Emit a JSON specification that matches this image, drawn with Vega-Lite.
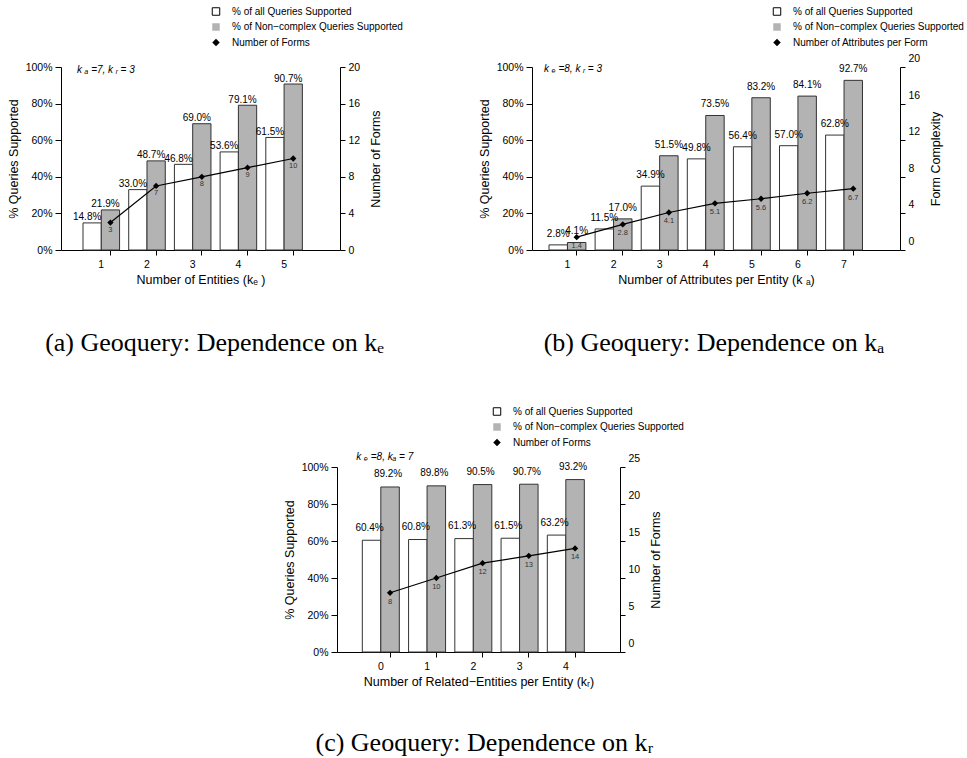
{
  "$schema": "https://vega.github.io/schema/vega-lite/v6.json",
  "padding": {"left": 7, "top": 6, "right": 0, "bottom": 0},
  "config": {
    "font": "Liberation Sans",
    "view": {"stroke": null},
    "axis": {"grid": false, "domainColor": "black", "tickColor": "black", "labelColor": "black", "titleColor": "black", "labelFontSize": 10.5, "titleFontSize": 12.5, "titleFontWeight": "normal", "tickSize": 5, "labelPadding": 3, "labelFont": "Liberation Sans", "titleFont": "Liberation Sans", "labelOverlap": false, "labelFlush": false, "labelBound": false},
    "axisX": {"labelAngle": 0, "labelPadding": 4, "titlePadding": 4},
    "axisLeft": {"titlePadding": 5, "tickSize": 6},
    "axisRight": {"titlePadding": 10, "titleAngle": -90, "titleBaseline": "top"},
    "title": {"font": "Liberation Serif", "fontSize": 26, "fontWeight": "normal", "color": "black"},
    "legend": {"labelFont": "Liberation Sans", "labelFontSize": 10, "labelColor": "black", "labelLimit": 0, "title": null, "orient": "none", "symbolSize": 56, "rowPadding": 3.5, "labelOffset": 11, "padding": 0, "symbolStrokeColor": "black", "symbolStrokeWidth": 1},
    "text": {"font": "Liberation Sans", "color": "black"}
  },
  "datasets": {
    "a_bars": [
      {"k": "1", "s": "% of all Queries Supported", "v": 0.148}, {"k": "1", "s": "% of Non−complex Queries Supported", "v": 0.219},
      {"k": "2", "s": "% of all Queries Supported", "v": 0.330}, {"k": "2", "s": "% of Non−complex Queries Supported", "v": 0.487},
      {"k": "3", "s": "% of all Queries Supported", "v": 0.468}, {"k": "3", "s": "% of Non−complex Queries Supported", "v": 0.690},
      {"k": "4", "s": "% of all Queries Supported", "v": 0.536}, {"k": "4", "s": "% of Non−complex Queries Supported", "v": 0.791},
      {"k": "5", "s": "% of all Queries Supported", "v": 0.615}, {"k": "5", "s": "% of Non−complex Queries Supported", "v": 0.907}
    ],
    "a_line": [
      {"k": "1", "s": "Number of Forms", "n": 3}, {"k": "2", "s": "Number of Forms", "n": 7}, {"k": "3", "s": "Number of Forms", "n": 8},
      {"k": "4", "s": "Number of Forms", "n": 9}, {"k": "5", "s": "Number of Forms", "n": 10}
    ],
    "a_note": [{"k": "1", "v": 1, "t": "k ₐ =7,  k ᵣ = 3"}],
    "b_bars": [
      {"k": "1", "s": "% of all Queries Supported", "v": 0.028}, {"k": "1", "s": "% of Non−complex Queries Supported", "v": 0.041},
      {"k": "2", "s": "% of all Queries Supported", "v": 0.115}, {"k": "2", "s": "% of Non−complex Queries Supported", "v": 0.170},
      {"k": "3", "s": "% of all Queries Supported", "v": 0.349}, {"k": "3", "s": "% of Non−complex Queries Supported", "v": 0.515},
      {"k": "4", "s": "% of all Queries Supported", "v": 0.498}, {"k": "4", "s": "% of Non−complex Queries Supported", "v": 0.735},
      {"k": "5", "s": "% of all Queries Supported", "v": 0.564}, {"k": "5", "s": "% of Non−complex Queries Supported", "v": 0.832},
      {"k": "6", "s": "% of all Queries Supported", "v": 0.570}, {"k": "6", "s": "% of Non−complex Queries Supported", "v": 0.841},
      {"k": "7", "s": "% of all Queries Supported", "v": 0.628}, {"k": "7", "s": "% of Non−complex Queries Supported", "v": 0.927}
    ],
    "b_line": [
      {"k": "1", "s": "Number of Attributes per Form", "n": 1.4}, {"k": "2", "s": "Number of Attributes per Form", "n": 2.8},
      {"k": "3", "s": "Number of Attributes per Form", "n": 4.1}, {"k": "4", "s": "Number of Attributes per Form", "n": 5.1},
      {"k": "5", "s": "Number of Attributes per Form", "n": 5.6}, {"k": "6", "s": "Number of Attributes per Form", "n": 6.2},
      {"k": "7", "s": "Number of Attributes per Form", "n": 6.7}
    ],
    "b_note": [{"k": "1", "v": 1, "t": "k ₑ =8,  k ᵣ = 3"}],
    "c_bars": [
      {"k": "0", "s": "% of all Queries Supported", "v": 0.604}, {"k": "0", "s": "% of Non−complex Queries Supported", "v": 0.892},
      {"k": "1", "s": "% of all Queries Supported", "v": 0.608}, {"k": "1", "s": "% of Non−complex Queries Supported", "v": 0.898},
      {"k": "2", "s": "% of all Queries Supported", "v": 0.613}, {"k": "2", "s": "% of Non−complex Queries Supported", "v": 0.905},
      {"k": "3", "s": "% of all Queries Supported", "v": 0.615}, {"k": "3", "s": "% of Non−complex Queries Supported", "v": 0.907},
      {"k": "4", "s": "% of all Queries Supported", "v": 0.632}, {"k": "4", "s": "% of Non−complex Queries Supported", "v": 0.932}
    ],
    "c_line": [
      {"k": "0", "s": "Number of Forms", "n": 8}, {"k": "1", "s": "Number of Forms", "n": 10}, {"k": "2", "s": "Number of Forms", "n": 12},
      {"k": "3", "s": "Number of Forms", "n": 13}, {"k": "4", "s": "Number of Forms", "n": 14}
    ],
    "c_note": [{"k": "0", "v": 1, "t": "k ₑ =8,  kₐ = 7"}],
    "spacer": [{"k": "0"}]
  },
  "spacing": 400,
  "bounds": "flush",
  "resolve": {"scale": {"fill": "independent", "shape": "independent", "xOffset": "independent"}, "legend": {"fill": "independent", "shape": "independent"}},
  "vconcat": [
    {
      "spacing": 192,
      "bounds": "flush",
      "resolve": {"scale": {"fill": "independent", "shape": "independent", "xOffset": "independent"}, "legend": {"fill": "independent", "shape": "independent"}},
      "hconcat": [
        {
          "width": 279, "height": 183,
          "title": {"text": "(a) Geoquery: Dependence on kₑ", "orient": "bottom", "anchor": "middle", "frame": "group", "offset": 44, "dx": 14},
          "resolve": {"scale": {"y": "independent"}},
          "layer": [
            {"layer": [
              {"data": {"name": "a_bars"}, "mark": {"type": "bar", "stroke": "#333", "strokeWidth": 1},
               "encoding": {
                 "x": {"field": "k", "type": "ordinal", "scale": {"paddingInner": 0.2, "paddingOuter": 0.6525, "align": 0.369}, "axis": {"title": "Number of Entities (kₑ )", "bandPosition": 0.75, "labelOverlap": false}},
                 "xOffset": {"field": "s", "type": "nominal", "scale": {"domain": ["% of all Queries Supported", "% of Non−complex Queries Supported"], "paddingInner": 0, "paddingOuter": 0}},
                 "y": {"field": "v", "type": "quantitative", "scale": {"domain": [0, 1], "nice": false}, "axis": {"orient": "left", "title": "% Queries Supported", "format": ".0%", "values": [0, 0.2, 0.4, 0.6, 0.8, 1], "tickCount": 20, "labelOverlap": false}},
                 "fill": {"field": "s", "type": "nominal", "scale": {"domain": ["% of all Queries Supported", "% of Non−complex Queries Supported", "Number of Forms"], "range": ["white", "#b3b3b3", "black"]},
                          "legend": {"legendX": 150, "legendY": -60.5, "encode": {"symbols": {"update": {"stroke": [{"test": "datum.value === '% of all Queries Supported'", "value": "black"}, {"value": "transparent"}]}}}}}
               }},
              {"data": {"name": "a_bars"}, "mark": {"type": "text", "fontSize": 10, "dy": -2.5, "dx": -5, "baseline": "alphabetic"},
               "encoding": {"x": {"field": "k", "type": "ordinal"}, "xOffset": {"field": "s", "type": "nominal"}, "y": {"field": "v", "type": "quantitative"}, "text": {"field": "v", "type": "quantitative", "format": ".1%"}}},
              {"data": {"name": "a_note"}, "mark": {"type": "text", "align": "left", "baseline": "middle", "fontStyle": "italic", "fontSize": 10, "dx": -6, "dy": 3.3},
               "encoding": {"x": {"field": "k", "type": "ordinal", "bandPosition": 0}, "y": {"field": "v", "type": "quantitative"}, "text": {"field": "t"}}}
            ]},
            {"layer": [
              {"data": {"name": "a_line"}, "mark": {"type": "line", "color": "black", "strokeWidth": 1.2},
               "encoding": {"x": {"field": "k", "type": "ordinal", "bandPosition": 0.75}, "y": {"field": "n", "type": "quantitative", "scale": {"domain": [0, 20], "nice": false}, "axis": {"orient": "right", "title": "Number of Forms", "values": [0, 4, 8, 12, 16, 20], "tickCount": 20, "labelOverlap": false}}}},
              {"data": {"name": "a_line"}, "mark": {"type": "point", "filled": true, "size": 40, "opacity": 1},
               "encoding": {"x": {"field": "k", "type": "ordinal", "bandPosition": 0.75}, "y": {"field": "n", "type": "quantitative"},
                 "fill": {"field": "s", "type": "nominal", "legend": {"legendX": 150, "legendY": -60.5, "encode": {"symbols": {"update": {"stroke": [{"test": "datum.value === '% of all Queries Supported'", "value": "black"}, {"value": "transparent"}]}}}}},
                 "shape": {"field": "s", "type": "nominal", "scale": {"domain": ["% of all Queries Supported", "% of Non−complex Queries Supported", "Number of Forms"], "range": ["square", "square", "diamond"]}, "legend": {"legendX": 150, "legendY": -60.5, "encode": {"symbols": {"update": {"stroke": [{"test": "datum.value === '% of all Queries Supported'", "value": "black"}, {"value": "transparent"}]}}}}}}},
              {"data": {"name": "a_line"}, "mark": {"type": "text", "fontSize": 7.5, "dy": 7.5, "baseline": "middle", "color": "#333"},
               "encoding": {"x": {"field": "k", "type": "ordinal", "bandPosition": 0.75}, "y": {"field": "n", "type": "quantitative"}, "text": {"field": "n", "type": "quantitative", "format": "d"}}}
            ]}
          ]
        },
        {
          "width": 368, "height": 183,
          "title": {"text": "(b) Geoquery: Dependence on kₐ", "orient": "bottom", "anchor": "middle", "frame": "group", "offset": 44, "dx": -2},
          "resolve": {"scale": {"y": "independent"}},
          "layer": [
            {"layer": [
              {"data": {"name": "b_bars"}, "mark": {"type": "bar", "stroke": "#333", "strokeWidth": 1},
               "encoding": {
                 "x": {"field": "k", "type": "ordinal", "scale": {"paddingInner": 0.2, "paddingOuter": 0.5915, "align": 0.312}, "axis": {"title": "Number of Attributes per Entity (k ₐ)", "bandPosition": 0.75, "labelOverlap": false}},
                 "xOffset": {"field": "s", "type": "nominal", "scale": {"domain": ["% of all Queries Supported", "% of Non−complex Queries Supported"], "paddingInner": 0, "paddingOuter": 0}},
                 "y": {"field": "v", "type": "quantitative", "scale": {"domain": [0, 1], "nice": false}, "axis": {"orient": "left", "title": "% Queries Supported", "format": ".0%", "values": [0, 0.2, 0.4, 0.6, 0.8, 1], "tickCount": 20, "labelOverlap": false}},
                 "fill": {"field": "s", "type": "nominal", "scale": {"domain": ["% of all Queries Supported", "% of Non−complex Queries Supported", "Number of Attributes per Form"], "range": ["white", "#b3b3b3", "black"]},
                          "legend": {"legendX": 240, "legendY": -60.5, "encode": {"symbols": {"update": {"stroke": [{"test": "datum.value === '% of all Queries Supported'", "value": "black"}, {"value": "transparent"}]}}}}}
               }},
              {"data": {"name": "b_bars"}, "mark": {"type": "text", "fontSize": 10, "dy": -8, "baseline": "alphabetic"},
               "encoding": {"x": {"field": "k", "type": "ordinal"}, "xOffset": {"field": "s", "type": "nominal"}, "y": {"field": "v", "type": "quantitative"}, "text": {"field": "v", "type": "quantitative", "format": ".1%"}}},
              {"data": {"name": "b_note"}, "mark": {"type": "text", "align": "left", "baseline": "middle", "fontStyle": "italic", "fontSize": 10, "dx": -5, "dy": 1.5},
               "encoding": {"x": {"field": "k", "type": "ordinal", "bandPosition": 0}, "y": {"field": "v", "type": "quantitative"}, "text": {"field": "t"}}}
            ]},
            {"layer": [
              {"data": {"name": "b_line"}, "mark": {"type": "line", "color": "black", "strokeWidth": 1.2},
               "encoding": {"x": {"field": "k", "type": "ordinal", "bandPosition": 0.75}, "y": {"field": "n", "type": "quantitative", "scale": {"domain": [0, 20], "nice": false}, "axis": {"orient": "right", "title": "Form Complexity", "values": [0, 4, 8, 12, 16, 20], "tickCount": 20, "labelOffset": -8.5, "labelOverlap": false}}}},
              {"data": {"name": "b_line"}, "mark": {"type": "point", "filled": true, "size": 40, "opacity": 1},
               "encoding": {"x": {"field": "k", "type": "ordinal", "bandPosition": 0.75}, "y": {"field": "n", "type": "quantitative"},
                 "fill": {"field": "s", "type": "nominal", "legend": {"legendX": 240, "legendY": -60.5, "encode": {"symbols": {"update": {"stroke": [{"test": "datum.value === '% of all Queries Supported'", "value": "black"}, {"value": "transparent"}]}}}}},
                 "shape": {"field": "s", "type": "nominal", "scale": {"domain": ["% of all Queries Supported", "% of Non−complex Queries Supported", "Number of Attributes per Form"], "range": ["square", "square", "diamond"]}, "legend": {"legendX": 240, "legendY": -60.5, "encode": {"symbols": {"update": {"stroke": [{"test": "datum.value === '% of all Queries Supported'", "value": "black"}, {"value": "transparent"}]}}}}}}},
              {"data": {"name": "b_line"}, "mark": {"type": "text", "fontSize": 7.5, "dy": 9, "baseline": "middle", "color": "#333"},
               "encoding": {"x": {"field": "k", "type": "ordinal", "bandPosition": 0.75}, "y": {"field": "n", "type": "quantitative"}, "text": {"field": "n", "type": "quantitative", "format": ".1f"}}}
            ]}
          ]
        }
      ]
    },
    {
      "spacing": 0,
      "bounds": "flush",
      "resolve": {"scale": {"fill": "independent", "shape": "independent", "xOffset": "independent"}, "legend": {"fill": "independent", "shape": "independent"}},
      "hconcat": [
        {"width": 276, "height": 1, "data": {"name": "spacer"}, "mark": {"type": "point", "opacity": 0}, "encoding": {"x": {"field": "k", "type": "ordinal", "axis": null}}},
        {
          "width": 283, "height": 185,
          "title": {"text": "(c) Geoquery: Dependence on kᵣ", "orient": "bottom", "anchor": "middle", "frame": "group", "offset": 42, "dx": 6},
          "resolve": {"scale": {"y": "independent"}},
          "layer": [
            {"layer": [
              {"data": {"name": "c_bars"}, "mark": {"type": "bar", "stroke": "#333", "strokeWidth": 1},
               "encoding": {
                 "x": {"field": "k", "type": "ordinal", "scale": {"paddingInner": 0.2, "paddingOuter": 0.6595, "align": 0.415}, "axis": {"title": "Number of Related−Entities per Entity (kᵣ)", "bandPosition": 0.75, "labelOverlap": false}},
                 "xOffset": {"field": "s", "type": "nominal", "scale": {"domain": ["% of all Queries Supported", "% of Non−complex Queries Supported"], "paddingInner": 0, "paddingOuter": 0}},
                 "y": {"field": "v", "type": "quantitative", "scale": {"domain": [0, 1], "nice": false}, "axis": {"orient": "left", "title": "% Queries Supported", "format": ".0%", "values": [0, 0.2, 0.4, 0.6, 0.8, 1], "tickCount": 20, "labelOverlap": false}},
                 "fill": {"field": "s", "type": "nominal", "scale": {"domain": ["% of all Queries Supported", "% of Non−complex Queries Supported", "Number of Forms"], "range": ["white", "#b3b3b3", "black"]},
                          "legend": {"legendX": 155, "legendY": -60.5, "encode": {"symbols": {"update": {"stroke": [{"test": "datum.value === '% of all Queries Supported'", "value": "black"}, {"value": "transparent"}]}}}}}
               }},
              {"data": {"name": "c_bars"}, "mark": {"type": "text", "fontSize": 10, "dy": -9.5, "dx": -2, "baseline": "alphabetic"},
               "encoding": {"x": {"field": "k", "type": "ordinal"}, "xOffset": {"field": "s", "type": "nominal"}, "y": {"field": "v", "type": "quantitative"}, "text": {"field": "v", "type": "quantitative", "format": ".1%"}}},
              {"data": {"name": "c_note"}, "mark": {"type": "text", "align": "left", "baseline": "middle", "fontStyle": "italic", "fontSize": 10, "dx": -6, "dy": -10},
               "encoding": {"x": {"field": "k", "type": "ordinal", "bandPosition": 0}, "y": {"field": "v", "type": "quantitative"}, "text": {"field": "t"}}}
            ]},
            {"layer": [
              {"data": {"name": "c_line"}, "mark": {"type": "line", "color": "black", "strokeWidth": 1.2},
               "encoding": {"x": {"field": "k", "type": "ordinal", "bandPosition": 0.75}, "y": {"field": "n", "type": "quantitative", "scale": {"domain": [0, 25], "nice": false}, "axis": {"orient": "right", "title": "Number of Forms", "values": [0, 5, 10, 15, 20, 25], "tickCount": 20, "labelOffset": -9, "labelOverlap": false}}}},
              {"data": {"name": "c_line"}, "mark": {"type": "point", "filled": true, "size": 40, "opacity": 1},
               "encoding": {"x": {"field": "k", "type": "ordinal", "bandPosition": 0.75}, "y": {"field": "n", "type": "quantitative"},
                 "fill": {"field": "s", "type": "nominal", "legend": {"legendX": 155, "legendY": -60.5, "encode": {"symbols": {"update": {"stroke": [{"test": "datum.value === '% of all Queries Supported'", "value": "black"}, {"value": "transparent"}]}}}}},
                 "shape": {"field": "s", "type": "nominal", "scale": {"domain": ["% of all Queries Supported", "% of Non−complex Queries Supported", "Number of Forms"], "range": ["square", "square", "diamond"]}, "legend": {"legendX": 155, "legendY": -60.5, "encode": {"symbols": {"update": {"stroke": [{"test": "datum.value === '% of all Queries Supported'", "value": "black"}, {"value": "transparent"}]}}}}}}},
              {"data": {"name": "c_line"}, "mark": {"type": "text", "fontSize": 7.5, "dy": 9, "baseline": "middle", "color": "#333"},
               "encoding": {"x": {"field": "k", "type": "ordinal", "bandPosition": 0.75}, "y": {"field": "n", "type": "quantitative"}, "text": {"field": "n", "type": "quantitative", "format": "d"}}}
            ]}
          ]
        }
      ]
    }
  ]
}
